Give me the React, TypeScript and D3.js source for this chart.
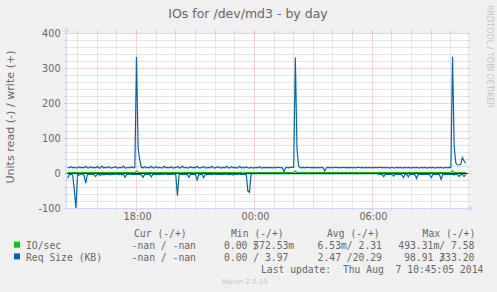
import React from 'react';
import * as d3 from 'd3';

// ---------- data (5-minute samples starting 2014-08-06 14:30) ----------
const START = new Date(2014, 7, 6, 14, 30, 0);
const T0 = new Date(2014, 7, 6, 14, 26, 17);
const T1 = new Date(2014, 7, 7, 10, 50, 42);

// Req Size (KB), write (+)
const writeKB = [
  17, 16, 19, 16, 17, 16,
  16, 19, 16, 17, 16, 20, 16, 16, 19, 16, 17, 16,
  19, 16, 16, 20, 16, 17, 16, 19, 16, 16, 17, 19,
  16, 16, 17, 16, 20, 16, 16, 17, 16, 19, 16, 17,
  333, 71, 38, 17, 16, 19, 16, 17, 16, 20, 16, 16,
  19, 16, 17, 16, 16, 20, 16, 17, 16, 19, 16, 16,
  17, 19, 16, 16, 20, 16, 17, 16, 16, 19, 16, 17,
  16, 20, 16, 16, 17, 19, 16, 16, 17, 16, 20, 16,
  16, 17, 19, 16, 16, 17, 16, 20, 16, 16, 19, 16,
  17, 16, 16, 20, 16, 17, 16, 19, 16, 16, 17, 16,
  16, 17, 16, 19, 16, 16, 17, 16, 17, 16, 17, 16,
  17, 16, 17, 17, 16, 17, 5, 16, 17, 16, 17, 17,
  17, 331, 72, 20, 17, 16, 17, 16, 17, 17, 16, 17,
  16, 17, 16, 17, 16, 17, 16, 7, 16, 17, 16, 17,
  16, 17, 17, 16, 17, 16, 17, 17, 16, 17, 16, 17,
  16, 17, 16, 17, 17, 16, 17, 16, 17, 16, 17, 16,
  17, 16, 17, 16, 17, 17, 16, 17, 16, 17, 16, 16,
  17, 16, 16, 17, 16, 17, 16, 16, 17, 16, 17, 16,
  16, 17, 16, 17, 16, 16, 17, 16, 17, 16, 16, 17,
  16, 17, 16, 16, 17, 16, 17, 16, 16, 17, 16, 17,
  16, 333.2, 76, 30, 24, 24, 26, 45, 36, 29,
];

// Req Size (KB), read (-) — plotted below zero
const readKB = [
  14, 3, 2, 4, 45, 99,
  3, 5, 2, 2, 6, 28, 3, 2, 3, 2, 3, 9,
  3, 2, 6, 2, 4, 2, 3, 2, 4, 2, 3, 2,
  2, 3, 2, 4, 2, 11, 3, 2, 2, 3, 2, 3,
  2, 3, 3, 4, 11, 3, 2, 3, 2, 10, 3, 2,
  3, 2, 3, 2, 3, 2, 2, 3, 2, 3, 2, 2,
  4, 64, 4, 2, 3, 2, 3, 2, 11, 3, 2, 3,
  3, 19, 4, 3, 2, 12, 3, 2, 3, 2, 3, 2,
  2, 3, 2, 3, 2, 3, 2, 2, 3, 2, 3, 5,
  2, 3, 2, 2, 3, 2, 3, 2, 50, 54, 2, 1,
  1, 1, 0, 1, 1, 0, 1, 1, 0, 1, 1, 0,
  1, 0, 1, 1, 0, 1, 1, 0, 1, 1, 0, 1,
  0, 1, 1, 0, 1, 1, 0, 1, 1, 0, 1, 1,
  0, 1, 1, 0, 1, 1, 0, 1, 1, 0, 1, 1,
  0, 1, 1, 0, 1, 1, 0, 1, 1, 0, 1, 1,
  0, 1, 1, 0, 1, 1, 0, 1, 1, 0, 1, 1,
  1, 0, 1, 1, 2, 3, 2, 9, 2, 3, 2, 3,
  3, 8, 2, 3, 2, 3, 4, 12, 3, 2, 10, 2,
  3, 2, 3, 14, 2, 3, 2, 3, 2, 3, 2, 4,
  12, 3, 2, 3, 2, 3, 17, 3, 2, 3, 2, 3,
  2, 3, 4, 3, 2, 9, 3, 2, 9, 3,
];

// IO/sec, write (+)
const ioWrite = [
  2.3, 2.2, 2.4, 2.3, 2.3, 2.2,
  2.3, 2.4, 2.2, 2.3, 2.3, 2.2, 2.4, 2.3, 2.2, 2.3, 2.4, 2.3,
  2.2, 2.3, 2.4, 2.3, 2.2, 2.3, 2.3, 2.4, 2.2, 2.3, 2.3, 2.2,
  2.4, 2.3, 2.2, 2.3, 2.4, 2.3, 2.2, 2.3, 2.3, 2.4, 2.2, 2.3,
  7.5, 2.6, 2.4, 2.3, 2.2, 2.3, 2.4, 2.3, 2.2, 2.3, 2.3, 2.4,
  2.2, 2.3, 2.3, 2.2, 2.4, 2.3, 2.2, 2.3, 2.4, 2.3, 2.2, 2.3,
  2.3, 2.4, 2.2, 2.3, 2.3, 2.2, 2.4, 2.3, 2.2, 2.3, 2.4, 2.3,
  2.2, 2.3, 2.4, 2.3, 2.2, 2.3, 2.3, 2.4, 2.2, 2.3, 2.3, 2.2,
  2.4, 2.3, 2.2, 2.3, 2.4, 2.3, 2.2, 2.3, 2.3, 2.4, 2.2, 2.3,
  2.3, 2.2, 2.4, 2.3, 2.2, 0.6, 2.3, 2.4, 2.3, 2.2, 2.3, 2.3,
  2.2, 2.3, 2.3, 2.2, 2.3, 2.2, 2.3, 2.3, 2.2, 2.3, 2.2, 2.3,
  2.3, 2.2, 2.3, 2.3, 2.2, 2.3, 2.2, 2.3, 2.3, 2.2, 2.3, 2.3,
  2.3, 7.4, 2.6, 2.3, 2.2, 2.3, 2.3, 2.2, 2.3, 2.3, 2.2, 2.3,
  2.2, 2.3, 2.3, 2.2, 2.3, 2.2, 2.3, 2.3, 2.2, 2.3, 2.2, 2.3,
  2.3, 2.2, 2.3, 2.3, 2.2, 2.3, 2.2, 2.3, 2.3, 2.2, 2.3, 2.3,
  2.2, 2.3, 2.3, 2.2, 2.3, 2.2, 2.3, 2.3, 2.2, 2.3, 2.2, 2.3,
  2.3, 2.2, 2.3, 2.3, 2.2, 2.3, 2.4, 2.3, 2.3, 2.4, 2.2, 2.3,
  2.4, 2.3, 2.2, 2.3, 2.4, 2.3, 2.2, 2.3, 2.3, 2.4, 2.2, 2.3,
  2.3, 2.2, 2.4, 2.3, 2.2, 2.3, 2.4, 2.3, 2.2, 2.3, 2.4, 2.3,
  2.2, 2.3, 2.4, 2.3, 2.2, 2.3, 2.3, 2.4, 2.2, 2.3, 2.3, 2.2,
  2.3, 7.58, 2.8, 2.5, 2.3, 2.4, 2.6, 2.5, 2.4, 2.3,
];

const yMajorTicks = [400, 300, 200, 100, 0, -100];
const xMajorTimes = [new Date(2014, 7, 6, 18), new Date(2014, 7, 7, 0), new Date(2014, 7, 7, 6)];
const xMajorLabels = ['18:00', '00:00', '06:00'];

const title = 'IOs for /dev/md3 - by day';
const yLabel = 'Units read (-) / write (+)';
const legendHeader = ['Cur (-/+)', 'Min (-/+)', 'Avg (-/+)', 'Max (-/+)'];
const legendNames = ['IO/sec', 'Req Size (KB)'];
const legendCur = ['-nan / -nan', '-nan / -nan'];
const legendMin = ['0.00 /|572.53m', '0.00 / 3.97'];
const legendAvg = ['6.53m/ 2.31', '2.47 /20.29'];
const legendMax = ['493.31m/ 7.58', ' 98.91 /|333.20'];
const lastUpdate = 'Last update:  Thu Aug  7 10:45:05 2014';
const watermark = 'Munin 2.0.19';
const sideText = 'RRDTOOL / TOBI OETIKER';

// ---------- styles ----------
const W = 497, H = 292;
const PL = 66.5, PR = 467.5, PT = 33.4, PB = 208.4;
const BLUE = '#0066b3';
const GREEN = '#00cc00';
const AXIS = '#cfd6f8';
const FONT = '#666666';
const GRID = '#cdcdcd';
const MGRID = '#f2a6a6';
const SANS = '"DejaVu Sans", sans-serif';
const MONO = '"DejaVu Sans Mono", monospace';
const CW = 9.72 * 0.602;

export default function App() {
  const x = d3.scaleTime().domain([T0, T1]).range([PL, PR]);
  const y = d3.scaleLinear().domain([-100, 400]).range([PB, PT]);
  const times = writeKB.map((_, i) => d3.timeMinute.offset(START, 5 * i));
  const snap = (v: number) => Math.floor(v) + 0.5;

  const lineUp = d3.line<number>().x((_, i) => x(times[i])).y((d) => y(d));
  const lineDown = d3.line<number>().x((_, i) => x(times[i])).y((d) => y(-d));

  const hours = d3.timeHour.range(d3.timeHour.ceil(T0), T1);
  const minorY = y.ticks(25).filter((v) => v % 100 !== 0);
  const majorX = new Set(xMajorTimes.map((d) => +d));

  const legendRowsY = [248.9, 260.6];
  const colX = [131.6, 224.0, 317.6, 398.3];
  const headX = [134.0, 231.0, 327.0, 422.6];

  const cell = (s: string, cx: number, cy: number, key: string) => {
    const [a, b] = s.split('|');
    return (
      <g key={key}>
        <text x={cx} y={cy} xmlSpace="preserve">{a}</text>
        {b !== undefined && <text x={cx + (a.length - 1) * CW} y={cy} xmlSpace="preserve">{b}</text>}
      </g>
    );
  };

  return (
    <svg width={W} height={H} style={{ position: 'absolute', left: 0, top: 0, display: 'block' }}>
      <rect x={0} y={0} width={W} height={H} fill="#f0f0f0" />
      <rect x={PL} y={PT} width={PR - PL} height={PB - PT} fill="#ffffff" />

      {/* minor horizontal grid */}
      {minorY.map((v) => (
        <g key={'my' + v}>
          <line x1={PL} x2={PR} y1={snap(y(v))} y2={snap(y(v))} stroke={GRID} strokeDasharray="1 1" />
          <line x1={PL - 2} x2={PL} y1={snap(y(v))} y2={snap(y(v))} stroke={GRID} />
          <line x1={PR} x2={PR + 2} y1={snap(y(v))} y2={snap(y(v))} stroke={GRID} />
        </g>
      ))}
      {/* vertical grid */}
      {hours.map((h) => {
        const major = majorX.has(+h);
        const c = major ? MGRID : GRID;
        const xx = snap(x(h));
        return (
          <g key={'vx' + +h}>
            <line x1={xx} x2={xx} y1={PT} y2={PB} stroke={c} strokeDasharray="1 1" />
            <line x1={xx} x2={xx} y1={PT - 3} y2={PT} stroke={c} />
            <line x1={xx} x2={xx} y1={PB} y2={PB + 2} stroke={c} />
          </g>
        );
      })}
      {/* major horizontal grid */}
      {yMajorTicks.map((v) => (
        <g key={'My' + v}>
          <line x1={PL} x2={PR} y1={snap(y(v))} y2={snap(y(v))} stroke={MGRID} strokeDasharray="1 1" />
          <line x1={PL - 2} x2={PL} y1={snap(y(v))} y2={snap(y(v))} stroke={MGRID} />
          <line x1={PR} x2={PR + 2} y1={snap(y(v))} y2={snap(y(v))} stroke={MGRID} />
        </g>
      ))}

      {/* series */}
      <path d={lineDown(readKB) || ''} fill="none" stroke={BLUE} strokeWidth={1.2} />
      <path d={lineUp(writeKB) || ''} fill="none" stroke={BLUE} strokeWidth={1.2} />
      <line x1={PL} x2={PR} y1={snap(y(0))} y2={snap(y(0))} stroke="#000" strokeWidth={1} />
      <path d={lineUp(ioWrite) || ''} fill="none" stroke={GREEN} strokeWidth={1.2} />

      {/* axes */}
      <line x1={PL - 2} x2={PR + 3} y1={snap(PB)} y2={snap(PB)} stroke={AXIS} />
      <path d={`M${PR + 1},${PB - 3.5} L${PR + 6},${PB} L${PR + 1},${PB + 3.5} Z`} fill={AXIS} />
      <line x1={snap(PL)} x2={snap(PL)} y1={PB + 2} y2={PT - 4} stroke={AXIS} />
      <path d={`M${PL - 3},${PT - 2} L${PL},${PT - 7} L${PL + 3},${PT - 2} Z`} fill={AXIS} />

      {/* y tick labels */}
      <g fontFamily={SANS} fontSize={9.72} fill={FONT} textAnchor="end">
        {yMajorTicks.map((v) => (
          <text key={'yl' + v} x={60.6} y={y(v) + 3.5}>{v}</text>
        ))}
      </g>
      {/* x tick labels */}
      <g fontFamily={SANS} fontSize={9.72} fill={FONT} textAnchor="middle">
        {xMajorTimes.map((t, i) => (
          <text key={'xl' + i} x={x(t) + 1.1} y={220}>{xMajorLabels[i]}</text>
        ))}
      </g>

      {/* title & labels */}
      <text x={248} y={18.3} fontFamily={SANS} fontSize={12.5} fill={FONT} textAnchor="middle">{title}</text>
      <text transform="translate(14.2,117) rotate(-90)" fontFamily={SANS} fontSize={11.1} fill={FONT} textAnchor="middle">{yLabel}</text>
      <text transform="translate(486.6,56.5) rotate(90)" fontFamily={SANS} fontSize={8} fill="#c4c4c4" textAnchor="middle">{sideText}</text>

      {/* legend */}
      <g fontFamily={MONO} fontSize={9.72} fill={FONT}>
        {legendHeader.map((h, i) => (
          <text key={'lh' + i} x={headX[i]} y={237.2} xmlSpace="preserve">{h}</text>
        ))}
        {legendNames.map((n, r) => (
          <g key={'lr' + r}>
            <rect x={14} y={legendRowsY[r] - 7.2} width={6} height={6} fill={r === 0 ? GREEN : BLUE} />
            <text x={26.0} y={legendRowsY[r]} xmlSpace="preserve">{n}</text>
            {cell(legendCur[r], colX[0], legendRowsY[r], 'c' + r)}
            {cell(legendMin[r], colX[1], legendRowsY[r], 'n' + r)}
            {cell(legendAvg[r], colX[2], legendRowsY[r], 'a' + r)}
            {cell(legendMax[r], colX[3], legendRowsY[r], 'x' + r)}
          </g>
        ))}
        <text x={261.0} y={273.1} xmlSpace="preserve">{lastUpdate}</text>
      </g>
      <text x={222.0} y={283.6} fontFamily={SANS} fontSize={6.94} fill="#c4c4c4">{watermark}</text>
    </svg>
  );
}
